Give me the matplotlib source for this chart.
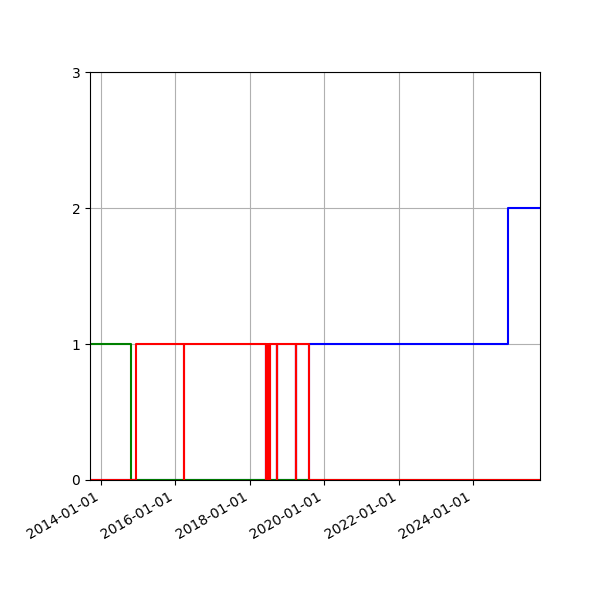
import matplotlib
matplotlib.use("Agg")
import matplotlib.pyplot as plt
import matplotlib.dates as mdates
import pandas as pd

# step series: date where each value starts, and the value
blue_dates = ["2013-09-15", "2018-06-06", "2018-06-07", "2018-09-21", "2018-09-22",
              "2019-03-26", "2019-03-27", "2019-08-03", "2024-12-10", "2025-10-20"]
blue_vals = [0, 1, 0, 1, 0, 1, 0, 1, 2, 2]

green_dates = ["2013-09-15", "2014-10-23", "2025-10-20"]
green_vals = [1, 0, 0]

red_dates = ["2013-09-15", "2014-12-06", "2016-03-24", "2016-03-27",
             "2018-06-08", "2018-06-14", "2018-06-20", "2018-06-26", "2018-07-02",
             "2018-07-08", "2018-07-14", "2018-07-20", "2018-07-26",
             "2018-09-23", "2018-09-26", "2019-03-28", "2019-03-31",
             "2019-08-04", "2025-10-20"]
red_vals = [0, 1, 0, 1,
            0, 1, 0, 1, 0,
            1, 0, 1, 1,
            0, 1, 0, 1,
            0, 0]

fig, ax = plt.subplots(figsize=(6, 6), dpi=100)
for d, v, c in [(blue_dates, blue_vals, "blue"),
                (green_dates, green_vals, "green"),
                (red_dates, red_vals, "red")]:
    ax.step(pd.to_datetime(d), v, where="post", color=c)

ax.set_ylim(0, 3)
ax.set_yticks([0, 1, 2, 3])
ax.set_xlim(pd.Timestamp("2013-09-15"), pd.Timestamp("2025-10-20"))
ax.xaxis.set_major_locator(mdates.YearLocator(2))
ax.xaxis.set_major_formatter(mdates.DateFormatter("%Y-%m-%d"))
ax.grid(True)
fig.autofmt_xdate()
fig.subplots_adjust(left=0.15, right=0.9, top=0.88, bottom=0.2)
fig.savefig("out.png")
